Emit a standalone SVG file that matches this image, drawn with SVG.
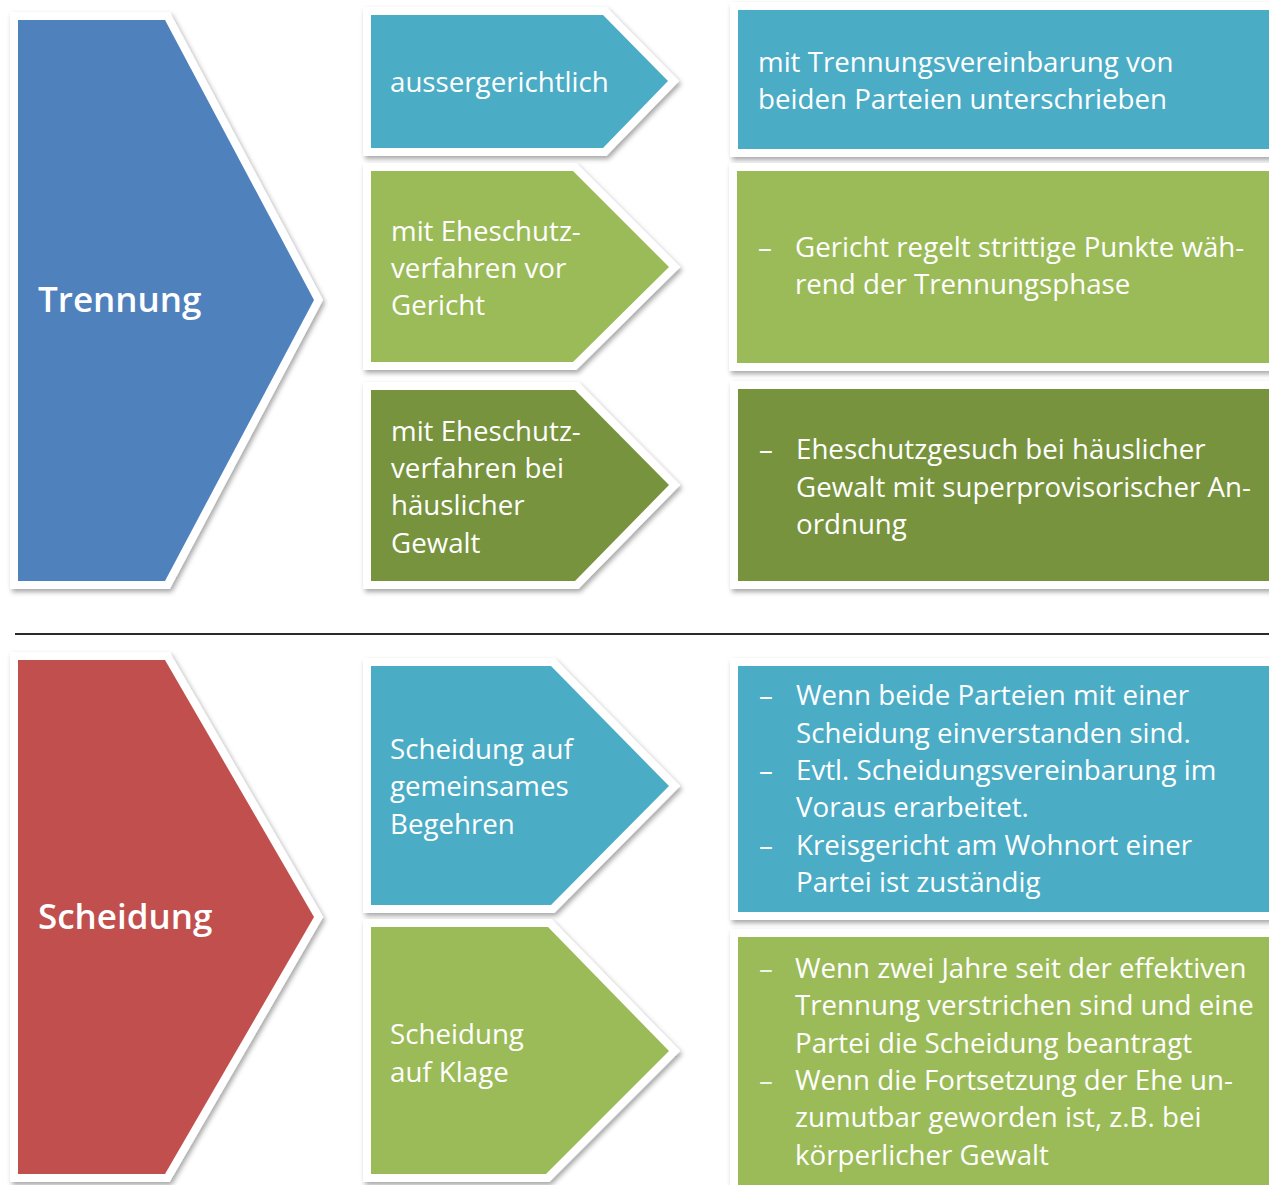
<svg xmlns="http://www.w3.org/2000/svg" width="1269" height="1185" viewBox="0 0 1269 1185">
<defs>
<filter id="sh" x="-10%" y="-10%" width="125%" height="130%">
<feDropShadow dx="2" dy="3" stdDeviation="2.5" flood-color="#000" flood-opacity="0.35"/>
</filter>
<style>
.n{stroke:#fff;stroke-width:16;paint-order:stroke;stroke-linejoin:miter;filter:url(#sh)}
.blue{fill:#4F81BD}.red{fill:#C0504D}.teal{fill:#4BACC6}.green{fill:#9BBB59}.dgreen{fill:#77933C}
text{font-family:"Open Sans","Noto Sans","DejaVu Sans",sans-serif;fill:#fff;font-size:27.7px}
.big{font-size:35px;font-weight:600}
.dash{fill-opacity:0.85}
</style>
</defs>
<rect width="1269" height="1185" fill="#fff"/>

<g id="trennung">
<polygon class="n blue" points="18,20 165,20 314,300 165,581 18,581"/>
<text class="big" x="38" y="312">Trennung</text>
</g>

<g id="aussergerichtlich">
<polygon class="n teal" points="371,15 603,15 668,81 603,148 371,148"/>
<text x="390" y="92">aussergerichtlich</text>
</g>

<g id="eheschutz-gericht">
<polygon class="n green" points="371,171 573,171 669,267 573,362 371,362"/>
<text x="391" y="241">mit Eheschutz-</text>
<text x="391" y="278">verfahren vor</text>
<text x="391" y="315">Gericht</text>
</g>

<g id="eheschutz-gewalt">
<polygon class="n dgreen" points="371,390 575,390 669,485 575,581 371,581"/>
<text x="391" y="441">mit Eheschutz-</text>
<text x="391" y="478">verfahren bei</text>
<text x="391" y="515">häuslicher</text>
<text x="391" y="553">Gewalt</text>
</g>

<g id="box-vereinbarung">
<rect class="n teal" x="738" y="10" width="560" height="139"/>
<text x="758" y="72">mit Trennungsvereinbarung von</text>
<text x="758" y="109">beiden Parteien unterschrieben</text>
</g>

<g id="box-gericht">
<rect class="n green" x="737" y="171" width="560" height="192"/>
<text x="758" y="257">–</text>
<text x="795" y="257">Gericht regelt strittige Punkte wäh-</text>
<text x="795" y="294">rend der Trennungsphase</text>
</g>

<g id="box-gewalt">
<rect class="n dgreen" x="738" y="389" width="560" height="192"/>
<text x="759" y="459">–</text>
<text x="796" y="459">Eheschutzgesuch bei häuslicher</text>
<text x="796" y="497">Gewalt mit superprovisorischer An-</text>
<text x="796" y="534">ordnung</text>
</g>

<g id="separator">
<line x1="15" y1="634" x2="1269" y2="634" stroke="#2a2a2a" stroke-width="2"/>
</g>

<g id="scheidung">
<polygon class="n red" points="18,660 165,660 314,917 165,1174 18,1174"/>
<text class="big" x="38" y="929">Scheidung</text>
</g>

<g id="gemeinsames-begehren">
<polygon class="n teal" points="371,666 551,666 669,786 551,905 371,905"/>
<text x="390" y="759">Scheidung auf</text>
<text x="390" y="796">gemeinsames</text>
<text x="390" y="834">Begehren</text>
</g>

<g id="klage">
<polygon class="n green" points="371,927 548,927 669,1051 546,1174 371,1174"/>
<text x="390" y="1044">Scheidung</text>
<text x="390" y="1082">auf Klage</text>
</g>

<g id="box-begehren">
<rect class="n teal" x="738" y="666" width="560" height="246"/>
<text x="759" y="705">–</text>
<text x="796" y="705">Wenn beide Parteien mit einer</text>
<text x="796" y="743">Scheidung einverstanden sind.</text>
<text x="759" y="780">–</text>
<text x="796" y="780">Evtl. Scheidungsvereinbarung im</text>
<text x="796" y="817">Voraus erarbeitet.</text>
<text x="759" y="855">–</text>
<text x="796" y="855">Kreisgericht am Wohnort einer</text>
<text x="796" y="892">Partei ist zuständig</text>
</g>

<g id="box-klage">
<rect class="n green" x="738" y="937" width="560" height="260"/>
<text class="dash" x="759" y="978">–</text>
<text x="795" y="978">Wenn zwei Jahre seit der effektiven</text>
<text x="795" y="1015">Trennung verstrichen sind und eine</text>
<text x="795" y="1053">Partei die Scheidung beantragt</text>
<text class="dash" x="759" y="1090">–</text>
<text x="795" y="1090">Wenn die Fortsetzung der Ehe un-</text>
<text x="795" y="1127">zumutbar geworden ist, z.B. bei</text>
<text x="795" y="1165">körperlicher Gewalt</text>
</g>

<g id="connectors"></g>
</svg>
